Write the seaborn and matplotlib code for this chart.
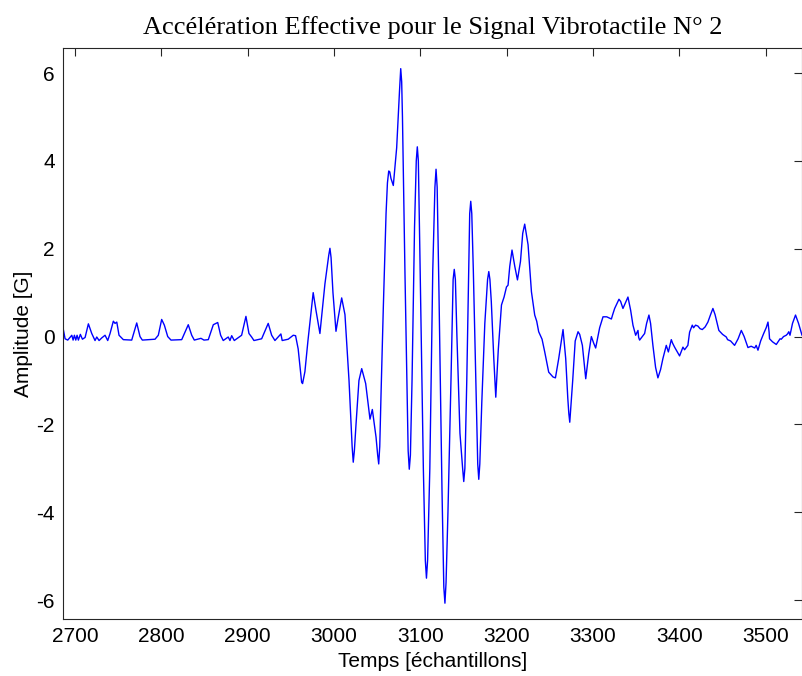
import matplotlib
matplotlib.use("Agg")
import matplotlib.pyplot as plt
import seaborn as sns
import pandas as pd

# Effective acceleration of vibrotactile signal no. 2 (sample index, amplitude in G)
samples = [
    2686.0, 2688.4, 2691.5, 2696.2, 2697.7, 2699.2, 2700.8, 2702.3, 2703.8, 2706.1,
    2708.5, 2711.6, 2715.4, 2719.3, 2723.1, 2725.1, 2727.8, 2730.9, 2734.7, 2737.8,
    2740.5, 2744.3, 2746.3, 2748.3, 2750.9, 2755.9, 2765.6, 2771.4, 2775.2, 2777.9,
    2792.6, 2796.4, 2800.3, 2803.4, 2807.3, 2811.1, 2823.5, 2831.1, 2835.1, 2838.1,
    2845.8, 2849.3, 2854.3, 2860.1, 2865.2, 2868.6, 2871.6, 2877.4, 2879.4, 2881.4,
    2884.4, 2892.9, 2897.9, 2901.4, 2904.5, 2907.2, 2916.1, 2923.7, 2927.7, 2931.5,
    2938.4, 2939.9, 2946.9, 2952.7, 2955.4, 2958.4, 2962.4, 2963.5, 2966.2, 2969.7,
    2975.8, 2979.0, 2983.6, 2989.4, 2993.8, 2995.2, 2996.5, 2998.7, 3002.2, 3004.5,
    3008.8, 3012.6, 3017.3, 3020.9, 3022.2, 3023.5, 3025.4, 3028.8, 3032.0, 3036.6,
    3041.6, 3044.3, 3048.6, 3050.5, 3051.7, 3052.9, 3054.4, 3057.0, 3060.2, 3061.8,
    3063.3, 3064.5, 3065.9, 3068.6, 3072.5, 3075.8, 3077.2, 3078.3, 3079.2, 3082.1,
    3085.8, 3087.1, 3088.4, 3090.3, 3093.2, 3095.2, 3096.4, 3097.6, 3099.3, 3103.4,
    3105.7, 3107.0, 3108.3, 3110.9, 3114.3, 3116.8, 3118.1, 3119.4, 3121.5, 3125.0,
    3127.1, 3128.4, 3129.7, 3131.9, 3135.4, 3137.9, 3139.2, 3140.5, 3142.3, 3145.8,
    3148.9, 3150.2, 3151.5, 3153.7, 3156.0, 3157.1, 3158.3, 3159.5, 3161.3, 3164.7,
    3166.4, 3167.6, 3168.8, 3171.1, 3174.6, 3177.8, 3179.2, 3180.5, 3182.1, 3185.0,
    3187.3, 3190.2, 3193.9, 3196.9, 3199.7, 3201.5, 3203.5, 3206.1, 3209.3, 3212.4,
    3215.9, 3218.5, 3220.8, 3224.7, 3228.6, 3232.4, 3234.7, 3237.0, 3240.9, 3244.0,
    3248.6, 3253.6, 3256.4, 3260.2, 3265.2, 3268.3, 3270.7, 3271.9, 3273.0, 3274.3,
    3276.4, 3279.3, 3282.6, 3284.5, 3287.6, 3291.5, 3294.9, 3298.0, 3300.7, 3303.0,
    3307.6, 3311.5, 3315.8, 3321.2, 3322.7, 3325.0, 3330.0, 3331.9, 3334.6, 3337.7,
    3340.4, 3343.5, 3346.2, 3349.3, 3352.0, 3352.8, 3353.9, 3359.7, 3362.0, 3364.7,
    3366.6, 3369.3, 3372.4, 3375.1, 3378.2, 3380.9, 3384.8, 3387.2, 3390.6, 3392.1,
    3394.4, 3400.2, 3404.1, 3406.0, 3409.8, 3411.8, 3414.9, 3416.4, 3418.7, 3421.4,
    3423.9, 3426.5, 3429.8, 3433.0, 3436.1, 3438.8, 3441.3, 3445.7, 3450.0, 3454.3,
    3455.8, 3459.3, 3463.9, 3468.0, 3471.7, 3475.0, 3479.4, 3483.1, 3487.2, 3488.9,
    3491.0, 3494.1, 3497.6, 3500.5, 3502.6, 3503.9, 3504.4, 3507.9, 3512.2, 3514.9,
    3516.6, 3518.0, 3520.6, 3523.7, 3525.2, 3526.7, 3528.1, 3531.0, 3534.5, 3538.0,
    3542.0,
]
amplitude = [
    0.20, -0.05, -0.08, 0.03, -0.08, 0.03, -0.08, 0.03, -0.08, 0.05,
    -0.06, -0.02, 0.29, 0.07, -0.09, -0.01, -0.09, -0.03, 0.03, -0.09,
    0.07, 0.35, 0.30, 0.33, 0.03, -0.07, -0.08, 0.31, 0.00, -0.08,
    -0.06, 0.03, 0.39, 0.26, 0.00, -0.08, -0.07, 0.27, 0.03, -0.08,
    -0.04, -0.08, -0.07, 0.27, 0.32, 0.03, -0.09, -0.01, -0.09, 0.02,
    -0.09, 0.03, 0.46, 0.07, -0.01, -0.09, -0.05, 0.30, 0.03, -0.09,
    0.06, -0.09, -0.06, 0.03, 0.02, -0.28, -1.04, -1.07, -0.80, -0.10,
    1.00, 0.60, 0.07, 1.20, 1.85, 2.01, 1.80, 1.00, 0.12, 0.40,
    0.88, 0.50, -1.00, -2.50, -2.86, -2.60, -2.00, -1.00, -0.73, -1.07,
    -1.88, -1.66, -2.29, -2.70, -2.90, -2.50, -1.30, 0.64, 2.80, 3.50,
    3.77, 3.75, 3.60, 3.44, 4.30, 5.60, 6.10, 5.80, 5.00, 1.45,
    -2.60, -3.02, -2.70, -1.00, 2.50, 4.00, 4.32, 4.00, 2.00, -3.00,
    -5.10, -5.50, -5.10, -3.00, 1.50, 3.40, 3.81, 3.40, 1.00, -3.50,
    -5.70, -6.07, -5.60, -4.00, -1.00, 1.30, 1.53, 1.30, 0.00, -2.20,
    -3.00, -3.30, -3.00, -1.00, 1.50, 2.80, 3.08, 2.80, 1.50, -1.50,
    -2.90, -3.25, -2.90, -1.50, 0.30, 1.30, 1.48, 1.30, 0.80, -0.50,
    -1.38, -0.30, 0.72, 0.90, 1.13, 1.17, 1.60, 1.97, 1.60, 1.29,
    1.71, 2.35, 2.56, 2.09, 1.02, 0.49, 0.35, 0.11, -0.06, -0.35,
    -0.81, -0.92, -0.94, -0.50, 0.16, -0.50, -1.40, -1.75, -1.95, -1.60,
    -1.00, -0.10, 0.11, 0.05, -0.20, -0.96, -0.40, 0.00, -0.15, -0.26,
    0.20, 0.45, 0.45, 0.40, 0.50, 0.64, 0.85, 0.80, 0.64, 0.78,
    0.90, 0.60, 0.26, 0.03, 0.14, -0.02, -0.08, 0.07, 0.30, 0.49,
    0.30, -0.20, -0.70, -0.94, -0.75, -0.50, -0.20, -0.35, -0.07, -0.15,
    -0.24, -0.44, -0.24, -0.30, -0.20, 0.10, 0.26, 0.20, 0.26, 0.24,
    0.18, 0.16, 0.22, 0.33, 0.50, 0.64, 0.50, 0.14, 0.05, -0.01,
    -0.07, -0.10, -0.20, -0.05, 0.14, 0.00, -0.25, -0.22, -0.26, -0.20,
    -0.31, -0.10, 0.07, 0.20, 0.33, 0.10, -0.05, -0.12, -0.18, -0.10,
    -0.05, -0.06, 0.00, 0.03, 0.06, 0.11, 0.03, 0.30, 0.49, 0.30,
    0.03,
]

x_ticks = [2700, 2800, 2900, 3000, 3100, 3200, 3300, 3400, 3500]
y_ticks = [-6, -4, -2, 0, 2, 4, 6]

sns.set_style("white")
plt.rcParams["font.family"] = ["Liberation Sans", "DejaVu Sans"]
plt.rcParams["axes.unicode_minus"] = False

df = pd.DataFrame({"Temps": samples, "Amplitude": amplitude})

fig = plt.figure(figsize=(8.03, 6.76), dpi=100)
ax = fig.add_axes([63 / 803, 1 - 619 / 676, (802 - 63) / 803, (619 - 48) / 676])

sns.lineplot(data=df, x="Temps", y="Amplitude", ax=ax, color="#0000ff",
             linewidth=1.0, estimator=None, sort=False)

ax.set_xlim(2686, 3542)
ax.set_ylim(-6.43, 6.57)
ax.set_xticks(x_ticks)
ax.set_yticks(y_ticks)
ax.tick_params(direction="in", length=6, width=0.8, top=True, right=True,
               labelsize=15, colors="#262626", labelcolor="black", pad=6)
for side in ax.spines.values():
    side.set_visible(True)
    side.set_color("#262626")
    side.set_linewidth(0.8)

ax.set_xlabel("Temps [échantillons]", fontsize=15, labelpad=4, color="black")
ax.set_ylabel("Amplitude [G]", fontsize=15, labelpad=2, color="black")
ax.set_title("Accélération Effective pour le Signal Vibrotactile N° 2",
             fontsize=19, family=["Liberation Serif", "DejaVu Serif"], pad=10,
             color="black")

fig.savefig("out.png", dpi=100, facecolor="white")
